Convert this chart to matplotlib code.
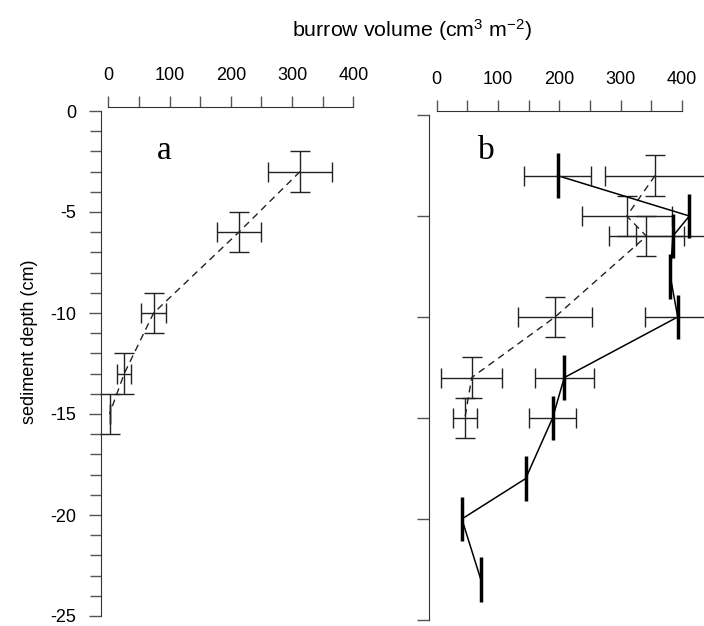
import matplotlib
matplotlib.use("Agg")
import matplotlib.pyplot as plt
from matplotlib.lines import Line2D
from matplotlib.collections import LineCollection

plt.rcParams['font.family'] = ['Liberation Sans', 'DejaVu Sans']
plt.rcParams['mathtext.default'] = 'regular'
plt.rcParams['axes.unicode_minus'] = False

# ---- data ----
x_ticks = [0, 100, 200, 300, 400]
y_ticks = [0, -5, -10, -15, -20, -25]

# panel a (dashed series)
a_depth = [-3, -6, -10, -13, -15]
a_vol = [313, 213, 74, 26, 2]
a_vol_err = [53, 36, 21, 11, 0]
a_depth_err = [1, 1, 1, 1, 1]

# panel b, dashed series
b1_depth = [-3, -5, -6, -10, -13, -15]
b1_vol = [356, 310, 342, 193, 57, 46]
b1_vol_err = [82, 73, 61, 60, 50, 20]
b1_depth_err = [1, 1, 1, 1, 1, 1]

# panel b, solid series
b2_depth = [-3, -5, -6, -8, -10, -13, -15, -18, -20, -23]
b2_vol = [197, 412, 385, 381, 393, 208, 189, 145, 41, 72]
b2_vol_err = [55, 0, 60, 0, 54, 48, 38, 0, 0, 0]
b2_depth_err = [1.1] * 10

W, H = 704, 626
fig = plt.figure(figsize=(W / 100, H / 100), dpi=100)

axa = fig.add_axes([108.3 / W, 10 / H, 245 / W, 505 / H])
axb = fig.add_axes([436.7 / W, 6 / H, 245.3 * 1.1 / W, 505 / H])

tick_col = '#555555'
thin_col = '#222222'

def style(ax, xmax, left_out, minor_y, labels_y):
    ax.set_xlim(0, xmax)
    ax.set_ylim(-25, 0)
    for s in ['right', 'bottom']:
        ax.spines[s].set_visible(False)
    ax.spines['top'].set_bounds(0, 400)
    ax.spines['left'].set_bounds(-25, 0)
    ax.spines['top'].set_position(('outward', 2.9))
    ax.spines['left'].set_position(('outward', left_out))
    ax.spines['top'].set_color('#333333')
    ax.spines['left'].set_color('#333333')
    ax.xaxis.set_ticks_position('top')
    ax.xaxis.set_label_position('top')
    ax.set_xticks(x_ticks)
    ax.set_xticks([50, 150, 250, 350], minor=True)
    ax.tick_params(axis='x', which='both', direction='out', length=8, width=1,
                   color=tick_col, labelsize=13, pad=8.5)
    ax.set_yticks(y_ticks)
    if minor_y:
        ax.set_yticks([v for v in range(-24, 0) if v % 5 != 0], minor=True)
    ax.tick_params(axis='y', which='major', direction='out', length=9, width=1,
                   color=tick_col, labelsize=13, pad=9, labelleft=labels_y)
    ax.tick_params(axis='y', which='minor', direction='out', length=8, width=1,
                   color=tick_col)
    ax.patch.set_visible(False)

style(axa, 400, 5.0, True, True)
style(axb, 440, 5.8, False, False)

dash = (0, (5, 3.6))

# panel a
axa.plot(a_vol, a_depth, color=thin_col, lw=1, linestyle=dash)
axa.errorbar(a_vol, a_depth, xerr=a_vol_err, yerr=a_depth_err, fmt='none',
             ecolor=thin_col, elinewidth=1, capsize=7.5, capthick=1)

# panel b dashed
axb.plot(b1_vol, b1_depth, color=thin_col, lw=1, linestyle=dash)
axb.errorbar(b1_vol, b1_depth, xerr=b1_vol_err, yerr=b1_depth_err, fmt='none',
             ecolor=thin_col, elinewidth=1, capsize=7.5, capthick=1)

# panel b solid
axb.plot(b2_vol, b2_depth, color='black', lw=1.1)
b2x = [v for v, e in zip(b2_vol, b2_vol_err) if e > 0]
b2y = [d for d, e in zip(b2_depth, b2_vol_err) if e > 0]
b2e = [e for e in b2_vol_err if e > 0]
axb.errorbar(b2x, b2y, xerr=b2e, fmt='none', ecolor=thin_col, elinewidth=1,
             capsize=7.5, capthick=1)
axb.errorbar(b2_vol, b2_depth, yerr=b2_depth_err, fmt='none', ecolor='black',
             elinewidth=2.5, capsize=0)

for ax in (axa, axb):
    for ch in ax.get_children():
        if isinstance(ch, (Line2D, LineCollection)):
            ch.set_clip_on(False)

axa.text(79, -2.40, 'a', family='Liberation Serif', fontsize=24, ha='left', va='baseline')
axb.text(67.8, -2.19, 'b', family='Liberation Serif', fontsize=24, ha='left', va='baseline')

fig.text(412 / W, 1 - 30 / H, 'burrow volume (cm$^{3}$ m$^{-2}$)', fontsize=15.4,
         ha='center', va='center')
fig.text(29.5 / W, 1 - 342 / H, 'sediment depth (cm)', fontsize=13, rotation=90,
         ha='center', va='center')

fig.savefig('out.png', dpi=100)
